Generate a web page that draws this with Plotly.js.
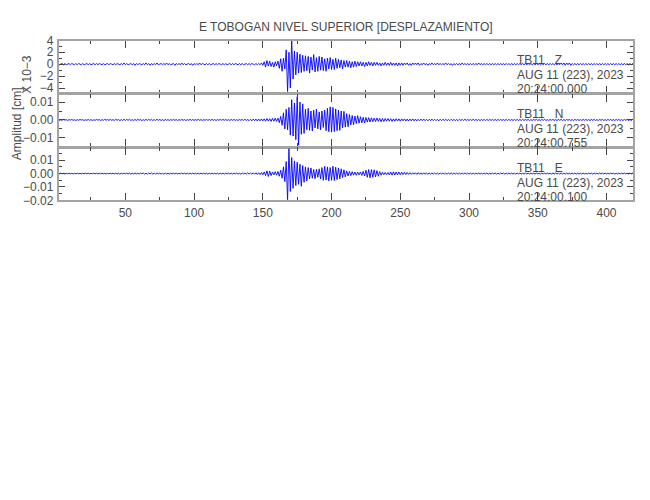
<!DOCTYPE html>
<html>
<head>
<meta charset="utf-8">
<script src="https://cdn.plot.ly/plotly-3.0.1.min.js"></script>
<style>html,body{margin:0;padding:0;background:#fff;}#chart{width:650px;height:500px;}</style>
</head>
<body>
<div id="chart"></div>
<script>
// Seismogram samples, 1 sample per second starting at t = 1 s, in units of 1e-4 cm
const sampleStart = 1;
const sampleStep = 1;

const traceZ = [
1,-1,0,1,-1,1,-1,0,1,-1,1,0,-1,1,-1,1,0,-1,1,-1,
0,1,-1,1,-1,0,1,-1,1,-1,1,0,-1,1,-1,0,1,-1,1,0,
-1,1,-1,1,0,-1,1,-1,2,-1,1,-1,0,1,-1,1,-2,1,-1,1,
0,-1,1,-1,2,-1,1,-2,1,-1,1,-1,2,-1,0,1,-1,1,-1,2,
-1,1,-1,0,1,-2,1,-1,1,-1,2,-1,1,-1,0,1,-1,1,-2,1,
-1,1,-1,2,-1,1,0,-1,1,-1,1,-1,0,1,-1,1,-1,1,0,-1,
1,-1,1,-1,0,1,-1,1,-1,1,0,-1,1,-1,1,-1,0,1,-1,1,
-1,1,0,-1,1,-1,1,-1,2,-2,4,-5,6,-3,5,-4,3,-5,4,-3,
5,-7,9,-12,10,-8,24,-46,20,-40,41,-25,22,-18,20,-15,17,-14,15,-12,
14,-11,13,-15,12,-10,16,-13,11,-12,13,-10,12,-11,9,-12,10,-8,11,-9,
8,-9,10,-7,8,-6,7,-8,6,-5,6,-5,5,-6,4,-5,5,-4,4,-3,
4,-3,3,-4,3,-3,4,-2,3,-3,3,-2,3,-2,2,-3,2,-2,3,-2,
2,-2,3,-2,2,-2,2,-3,2,-2,2,-2,2,-1,2,-2,1,-2,2,-1,
2,-1,2,-2,1,-1,2,-1,1,-2,1,-1,2,-1,1,-1,2,-1,1,-1,
1,-1,2,-1,1,-1,1,-2,1,-1,1,-1,1,-1,2,-1,1,-1,1,-1,
1,-1,1,-1,1,-1,2,-1,1,-1,1,-1,1,-1,1,-1,1,-1,1,-1,
1,-1,1,-1,1,-1,1,-1,1,-1,1,-1,1,-1,1,-1,1,-1,1,-1,
1,-1,1,-1,1,-1,1,-1,1,-1,1,-1,1,-1,1,-1,1,-1,1,-1,
1,-1,1,-1,1,-1,2,-1,2,-2,2,-1,2,-2,1,-1,1,-1,1,-1,
1,-1,1,-1,1,-1,1,-1,1,-1,1,-1,1,-1,1,-1,1,-1,1,-1,
1,-1,1,-1,1,-1,1,-1,1,-1,1,-1,1,-1,1,-1,1,-1,1,0
];

const traceN = [
2,-3,1,-2,3,-1,2,-3,2,-1,3,-2,1,-3,2,-2,3,-1,2,-3,
1,-2,3,-2,2,-3,1,-2,3,-1,2,-3,2,-2,3,-1,2,-2,3,-2,
2,-3,4,-2,3,-4,2,-3,4,-3,3,-2,4,-3,2,-4,3,-3,4,-2,
3,-4,2,-3,4,-3,3,-2,4,-3,2,-3,4,-2,3,-3,2,-4,3,-2,
2,-3,2,-2,3,-2,2,-3,2,-2,3,-2,2,-3,2,-2,3,-2,2,-2,
2,-2,3,-2,2,-3,2,-2,3,-2,2,-2,3,-2,2,-3,2,-2,3,-2,
3,-2,3,-3,2,-3,3,-2,3,-3,2,-3,3,-2,3,-3,4,-3,3,-4,
4,-5,5,-4,5,-6,5,-5,6,-5,6,-7,8,-6,7,-8,9,-7,10,-8,
10,-15,20,-30,40,-50,60,-55,70,-85,113,-90,95,-110,130,-141,100,-80,90,-75,
60,-55,65,-58,50,-62,55,-45,60,-50,45,-55,50,-42,55,-60,65,-66,73,-68,
70,-65,62,-60,55,-58,50,-45,48,-40,35,-38,30,-28,25,-27,22,-20,24,-18,
18,-16,15,-17,14,-12,13,-11,12,-10,10,-9,11,-8,9,-10,8,-9,8,-7,
8,-7,7,-8,6,-7,7,-6,6,-7,6,-5,6,-6,5,-6,5,-5,6,-5,
5,-5,4,-5,5,-4,5,-4,4,-5,4,-4,5,-4,4,-4,4,-5,4,-4,
4,-3,4,-4,3,-4,4,-3,3,-4,3,-4,4,-3,3,-3,4,-3,3,-3,
3,-3,4,-3,3,-3,3,-4,3,-3,3,-3,3,-3,4,-3,3,-3,3,-3,
3,-3,3,-3,3,-3,3,-3,3,-3,3,-3,3,-3,3,-3,3,-3,3,-3,
3,-2,3,-3,2,-3,3,-2,3,-3,2,-3,3,-2,3,-3,2,-3,3,-2,
3,-3,2,-3,3,-2,3,-3,2,-3,3,-2,3,-3,2,-3,3,-2,3,-3,
2,-3,3,-2,3,-3,2,-3,3,-2,3,-3,2,-3,3,-2,3,-3,2,-3,
3,-2,3,-3,2,-3,3,-2,3,-3,2,-3,3,-2,3,-3,2,-3,3,-2
];

const traceE = [
2,-2,3,-2,2,-3,2,-2,3,-2,2,-3,2,-2,3,-2,2,-3,2,-2,
3,-2,2,-3,2,-2,3,-2,2,-3,2,-2,3,-2,2,-3,2,-2,3,-2,
3,-3,4,-3,3,-4,3,-3,4,-3,4,-3,3,-4,3,-3,4,-3,3,-4,
4,-3,5,-4,3,-5,4,-3,5,-4,3,-4,5,-3,4,-4,3,-5,4,-3,
3,-4,3,-3,4,-3,3,-4,3,-3,4,-3,3,-4,3,-3,4,-3,3,-3,
3,-3,4,-3,3,-3,4,-3,3,-4,3,-3,4,-3,3,-3,3,-4,3,-3,
3,-4,3,-3,4,-3,3,-4,4,-3,4,-4,3,-4,4,-3,4,-4,5,-4,
5,-5,6,-5,6,-7,6,-8,8,-9,12,-15,20,-22,18,-15,12,-10,14,-12,
15,-20,25,-35,50,-60,90,-195,186,-134,120,-110,95,-90,85,-80,70,-95,60,-65,
50,-55,45,-40,42,-35,30,-38,32,-28,35,-40,45,-50,55,-48,50,-55,45,-50,
55,-52,48,-45,42,-40,35,-30,28,-25,20,-18,16,-15,14,-12,12,-13,11,-10,
12,-14,16,-18,25,-28,30,-32,30,-28,28,-25,22,-20,15,-12,10,-9,8,-8,
8,-10,12,-12,13,-11,12,-10,11,-9,10,-8,9,-7,8,-6,7,-6,6,-5,
6,-6,7,-6,5,-6,6,-5,5,-6,5,-5,6,-5,5,-5,4,-5,5,-4,
5,-4,4,-5,4,-4,5,-4,4,-4,4,-5,4,-4,4,-4,5,-4,4,-4,
4,-4,3,-4,4,-3,4,-4,3,-4,4,-3,4,-4,3,-4,4,-3,4,-4,
3,-4,4,-3,4,-4,3,-4,4,-3,4,-4,3,-4,4,-3,4,-4,3,-4,
4,-3,3,-4,4,-3,3,-4,4,-3,3,-4,4,-3,3,-4,4,-3,3,-4,
4,-4,5,-4,4,-5,4,-4,5,-4,4,-4,3,-4,4,-3,4,-4,3,-4,
3,-4,4,-3,3,-4,4,-3,3,-4,4,-3,3,-4,4,-3,3,-4,4,-3,
3,-3,4,-3,3,-4,3,-3,4,-3,3,-3,4,-3,3,-3,4,-3,3,-3
];

const stations = ['TB11\u00a0\u00a0\u00a0Z', 'TB11\u00a0\u00a0\u00a0N', 'TB11\u00a0\u00a0\u00a0E'];
const dateLabels = ['AUG 11 (223), 2023', 'AUG 11 (223), 2023', 'AUG 11 (223), 2023'];
const startTimes = ['20:24:00.000', '20:24:00.755', '20:24:00.100'];
const xTickVals = [50, 100, 150, 200, 250, 300, 350, 400];
const chartTitle = 'E TOBOGAN NIVEL SUPERIOR [DESPLAZAMIENTO]';
const yTitle = 'Amplitud [cm]';
const scaleLabel = 'X 10\u22123';

// unit conversion: top panel in 1e-3 cm, others in cm
const unitZ = 0.1, unitNE = 1e-4;

function times(n) { const t = []; for (let i = 0; i < n; i++) t.push(sampleStart + i * sampleStep); return t; }

const FONT = '"Liberation Sans", Arial, sans-serif';
const TXT = '#4a4a4a';
const FRAME = '#a3a3a3';

const traces = [
  {x: times(traceZ.length), y: traceZ.map(v => v * unitZ), xaxis: 'x', yaxis: 'y'},
  {x: times(traceN.length), y: traceN.map(v => v * unitNE), xaxis: 'x2', yaxis: 'y2'},
  {x: times(traceE.length), y: traceE.map(v => v * unitNE), xaxis: 'x3', yaxis: 'y3'}
].map(t => Object.assign(t, {type: 'scatter', mode: 'lines', line: {color: '#0000ff', width: 0.9}, hoverinfo: 'skip', showlegend: false}));

function xax(anchor, labels) {
  return {
    anchor: anchor, domain: [0, 1], range: [1, 420],
    showgrid: false, zeroline: false,
    showline: true, linecolor: FRAME, linewidth: 1.2, mirror: 'allticks',
    ticks: 'inside', ticklen: 8, tickwidth: 1, tickcolor: '#444',
    tickmode: 'array', tickvals: xTickVals,
    minor: {dtick: 25, tick0: 0, ticks: 'inside', ticklen: 4, tickcolor: '#444', tickwidth: 1, showgrid: false},
    showticklabels: labels,
    tickfont: {family: FONT, size: 12, color: TXT}
  };
}
function yax(domain, range, dtick, minor, fmt) {
  return {
    domain: domain, range: range,
    showgrid: false, zeroline: false,
    showline: true, linecolor: FRAME, linewidth: 1.2, mirror: 'allticks',
    ticks: 'inside', ticklen: 7, tickwidth: 1, tickcolor: '#444',
    dtick: dtick, tick0: 0, tickformat: fmt, ticklabelstandoff: 1,
    minor: {dtick: minor, tick0: 0, ticks: 'inside', ticklen: 4, tickcolor: '#444', tickwidth: 1, showgrid: false},
    tickfont: {family: FONT, size: 12, color: TXT}
  };
}

const annotations = [];
const doms = ['y domain', 'y2 domain', 'y3 domain'];
for (let i = 0; i < 3; i++) {
  [[stations[i], 0.62], [dateLabels[i], 0.34], [startTimes[i], 0.08]].forEach(([txt, yy]) => {
    annotations.push({text: txt, xref: 'paper', yref: doms[i], x: 0.793, y: yy, xanchor: 'left', yanchor: 'middle',
      showarrow: false, font: {family: FONT, size: 12, color: TXT}});
  });
}
annotations.push({text: yTitle, xref: 'paper', yref: 'paper', x: -0.071, y: 0.478, textangle: -90,
  xanchor: 'center', yanchor: 'middle', showarrow: false, font: {family: FONT, size: 12, color: TXT}});
annotations.push({text: scaleLabel, xref: 'paper', yref: 'paper', x: -0.054, y: 0.789, textangle: -90,
  xanchor: 'center', yanchor: 'middle', showarrow: false, font: {family: FONT, size: 12, color: TXT}});

const layout = {
  width: 650, height: 500,
  margin: {l: 58, r: 16, t: 40, b: 299},
  paper_bgcolor: '#fff', plot_bgcolor: '#fff',
  title: {text: chartTitle, x: 0.532, xanchor: 'center', y: 0.946, yanchor: 'middle',
    font: {family: FONT, size: 12, color: TXT}},
  xaxis: xax('y', false),
  xaxis2: Object.assign(xax('y2', false), {matches: 'x'}),
  xaxis3: Object.assign(xax('y3', true), {matches: 'x'}),
  yaxis: Object.assign(yax([0.6667, 1], [-4.95, 4.05], 2, 1, 'd'), {anchor: 'x'}),
  yaxis2: Object.assign(yax([0.3333, 0.6667], [-0.0153, 0.0147], 0.01, 0.005, '.2f'), {anchor: 'x2'}),
  yaxis3: Object.assign(yax([0, 0.3333], [-0.0205, 0.0196], 0.01, 0.005, '.2f'), {anchor: 'x3'}),
  shapes: [{type: 'rect', xref: 'paper', yref: 'paper', x0: 0, x1: 1, y0: 0, y1: 1,
    line: {color: FRAME, width: 2}, fillcolor: 'rgba(0,0,0,0)', layer: 'above'}],
  annotations: annotations
};

Plotly.newPlot('chart', traces, layout, {displayModeBar: false, staticPlot: true});
</script>
</body>
</html>
